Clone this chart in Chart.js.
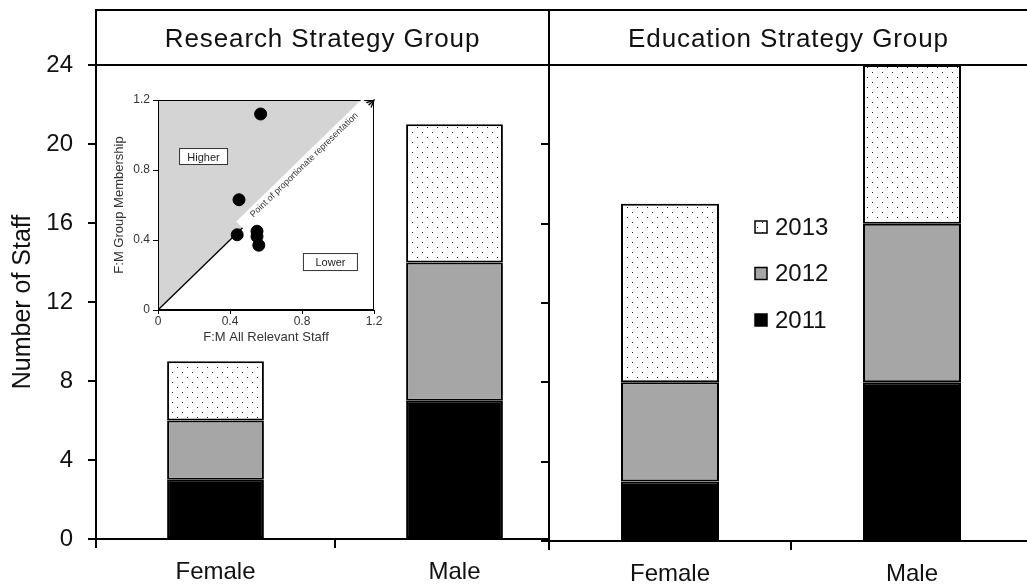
<!DOCTYPE html>
<html>
<head>
<meta charset="utf-8">
<script src="https://cdn.jsdelivr.net/npm/chart.js@4.4.0/dist/chart.umd.min.js"></script>
<style>
  html, body { margin: 0; padding: 0; background: #fff; overflow: hidden; }
  body { width: 1027px; height: 585px; position: relative; font-family: "Liberation Sans", Arial, sans-serif; }
  canvas { position: absolute; }
  #leftChart { left: 0; top: 0; z-index: 1; }
  #rightChart { left: 540px; top: 0; z-index: 2; }
  #insetChart { left: 100px; top: 85px; z-index: 3; }
  .head {
    position: absolute; top: 9px; height: 57px; box-sizing: border-box; z-index: 4;
    border-top: 2px solid #000; border-bottom: 2px solid #000; border-left: 2px solid #000;
    font-size: 26px; letter-spacing: 0.9px; color: #111; text-align: center; line-height: 54px;
  }
  #headL { left: 95px; width: 455px; border-right: 2px solid #000; }
  #headR { left: 548px; width: 490px; padding-right: 11px; }
</style>
</head>
<body>
<div class="head" id="headL">Research Strategy Group</div>
<div class="head" id="headR">Education Strategy Group</div>
<canvas id="leftChart" width="574" height="585"></canvas>
<canvas id="rightChart" width="493" height="585"></canvas>
<canvas id="insetChart" width="290" height="265"></canvas>
<script>
// ---- data ----
const categories = ['Female', 'Male'];
const years = ['2011', '2012', '2013'];
const research2011 = [3, 7];
const research2012 = [3, 7];
const research2013 = [3, 7];
const education2011 = [3, 8];
const education2012 = [5, 8];
const education2013 = [9, 8];
const staffMax = 24;
const staffStep = 4;

// inset: F:M ratios
const ratioAllStaff = [0.57, 0.45, 0.44, 0.55, 0.55, 0.56];
const ratioGroup = [1.12, 0.63, 0.43, 0.45, 0.42, 0.37];
const parityLine = [0, 1.2];
const insetMax = 1.2;
const insetStep = 0.4;

const FONT = '"Liberation Sans", Arial, sans-serif';
Chart.defaults.font.family = FONT;
Chart.defaults.color = '#111';

function dotPattern() {
  const tile = document.createElement('canvas');
  tile.width = 10; tile.height = 10;
  const g = tile.getContext('2d');
  g.fillStyle = '#fff';
  g.fillRect(0, 0, 10, 10);
  g.fillStyle = '#222';
  g.fillRect(2, 2, 1, 1);
  g.fillRect(7, 7, 1, 1);
  return g.createPattern(tile, 'repeat');
}
const fills = ['#000000', '#a6a6a6', dotPattern()];

function makeSets(series) {
  return years.map((yr, i) => ({
    label: yr,
    data: series[i],
    backgroundColor: fills[i],
    borderColor: '#000',
    borderWidth: 2,
    borderSkipped: false,
    categoryPercentage: 1,
    barPercentage: 0.405
  }));
}

function barOptions(yTicks, xHeight, yWidth) {
  return {
    responsive: false,
    animation: false,
    layout: { padding: { top: 65, left: 0, right: 0, bottom: 0 } },
    plugins: { legend: { display: false }, tooltip: { enabled: false } },
    scales: {
      x: {
        stacked: true,
        offset: true,
        grid: { offset: true, drawOnChartArea: false, tickLength: 9, color: '#000', lineWidth: 2 },
        border: { color: '#000', width: 2 },
        ticks: { color: '#111', font: { size: 24 }, padding: 10 },
        afterFit(s) { s.height = xHeight; }
      },
      y: {
        stacked: true,
        min: 0,
        max: staffMax,
        grid: { drawOnChartArea: false, tickLength: 8, color: '#000', lineWidth: 2 },
        border: { color: '#000', width: 2 },
        ticks: Object.assign({ stepSize: staffStep, color: '#111', font: { size: 24 }, padding: 15 }, yTicks),
        afterFit(s) { s.width = yWidth; }
      }
    }
  };
}

// left panel: research group
const leftOpts = barOptions({}, 46, 96);
leftOpts.scales.y.title = {
  display: true, text: 'Number of Staff', color: '#111',
  font: { size: 25 }, padding: { top: 8, bottom: 0 }
};
new Chart(document.getElementById('leftChart'), {
  type: 'bar',
  data: { labels: categories, datasets: makeSets([research2011, research2012, research2013]) },
  options: leftOpts
});

// right panel: education group, overlaid on the left one
const maskPlugin = {
  id: 'mask',
  beforeDraw(chart) {
    const c = chart.ctx;
    c.save();
    c.fillStyle = '#fff';
    c.fillRect(chart.chartArea.left, 0, chart.width, chart.height);
    c.restore();
  }
};
const yearLegend = {
  id: 'yearLegend',
  afterDraw(chart, args, opts) {
    const c = chart.ctx;
    const sets = chart.data.datasets;
    c.save();
    c.font = '24px ' + FONT;
    c.textBaseline = 'middle';
    for (let k = sets.length - 1, row = 0; k >= 0; k--, row++) {
      const y = opts.y + row * opts.gap;
      c.fillStyle = sets[k].backgroundColor;
      c.fillRect(opts.x, y - 6, 12, 12);
      c.strokeStyle = '#000';
      c.lineWidth = 1.5;
      c.strokeRect(opts.x, y - 6, 12, 12);
      c.fillStyle = '#111';
      c.fillText(sets[k].label, opts.x + 20, y + 1);
    }
    c.restore();
  }
};
const rightOpts = barOptions({ display: false }, 44, 9);
rightOpts.plugins.yearLegend = { x: 215, y: 227, gap: 46.5 };
new Chart(document.getElementById('rightChart'), {
  type: 'bar',
  data: { labels: categories, datasets: makeSets([education2011, education2012, education2013]) },
  options: rightOpts,
  plugins: [maskPlugin, yearLegend]
});

// inset scatter
const insetDecor = {
  id: 'insetDecor',
  afterDatasetsDraw(chart) {
    const { ctx, chartArea: a, scales: { x, y } } = chart;
    ctx.save();
    ctx.strokeStyle = '#000';
    ctx.lineWidth = 1;
    ctx.strokeRect(a.left + 0.5, a.top + 0.5, a.right - a.left - 1, a.bottom - a.top - 1);

    const x0 = x.getPixelForValue(parityLine[0]), y0 = y.getPixelForValue(parityLine[0]);
    const x1 = x.getPixelForValue(parityLine[1]), y1 = y.getPixelForValue(parityLine[1]);
    const ang = Math.atan2(y1 - y0, x1 - x0);

    // arrow head
    ctx.save();
    ctx.translate(x1, y1);
    ctx.rotate(ang);
    ctx.beginPath();
    ctx.moveTo(-9, -4); ctx.lineTo(0, 0); ctx.lineTo(-9, 4);
    ctx.lineWidth = 1.3;
    ctx.stroke();
    ctx.restore();

    // label along the parity line
    ctx.save();
    ctx.translate(x.getPixelForValue(0.82), y.getPixelForValue(0.82));
    ctx.rotate(ang);
    ctx.fillStyle = '#fff';
    ctx.fillRect(-88, -9, 176, 14);
    ctx.fillStyle = '#333';
    ctx.font = '9px ' + FONT;
    ctx.textAlign = 'center';
    ctx.textBaseline = 'middle';
    ctx.fillText('Point of proportionate representation', 0, -2);
    ctx.restore();

    // region labels
    const tag = (text, dx, dy, w, h) => {
      const cx = x.getPixelForValue(dx), cy = y.getPixelForValue(dy);
      ctx.fillStyle = '#fff';
      ctx.fillRect(cx - w / 2, cy - h / 2, w, h);
      ctx.strokeStyle = '#333';
      ctx.lineWidth = 1;
      ctx.strokeRect(cx - w / 2 + 0.5, cy - h / 2 + 0.5, w - 1, h - 1);
      ctx.fillStyle = '#222';
      ctx.font = '11px ' + FONT;
      ctx.textAlign = 'center';
      ctx.textBaseline = 'middle';
      ctx.fillText(text, cx, cy + 1);
    };
    tag('Higher', 0.253, 0.877, 49, 17);
    tag('Lower', 0.958, 0.274, 55, 18);
    ctx.restore();
  }
};

new Chart(document.getElementById('insetChart'), {
  type: 'scatter',
  data: {
    datasets: [
      {
        data: ratioAllStaff.map((v, i) => ({ x: v, y: ratioGroup[i] })),
        backgroundColor: '#000',
        borderColor: '#000',
        pointRadius: 6,
        order: 0
      },
      {
        data: parityLine.map(v => ({ x: v, y: v })),
        showLine: true,
        borderColor: '#000',
        borderWidth: 1.3,
        backgroundColor: '#d4d4d4',
        fill: 'end',
        pointRadius: 0,
        order: 1
      }
    ]
  },
  options: {
    responsive: false,
    animation: false,
    layout: { padding: { top: 15, right: 16, left: 0, bottom: 0 } },
    plugins: { legend: { display: false }, tooltip: { enabled: false } },
    scales: {
      x: {
        min: 0, max: insetMax,
        grid: { drawOnChartArea: false, tickLength: 4, color: '#000' },
        border: { color: '#000' },
        ticks: { stepSize: insetStep, color: '#333', font: { size: 12 }, padding: 0 },
        title: { display: true, text: 'F:M All Relevant Staff', color: '#333', font: { size: 13 }, padding: { top: 0, bottom: 5 } },
        afterFit(s) { s.height = 40; }
      },
      y: {
        min: 0, max: insetMax,
        grid: { drawOnChartArea: false, tickLength: 5, color: '#000' },
        border: { color: '#000' },
        ticks: { stepSize: insetStep, color: '#333', font: { size: 12 }, padding: 3 },
        title: { display: true, text: 'F:M Group Membership', color: '#333', font: { size: 13 }, padding: { top: 12, bottom: 0 } },
        afterFit(s) { s.width = 58; }
      }
    }
  },
  plugins: [insetDecor]
});
</script>
</body>
</html>
